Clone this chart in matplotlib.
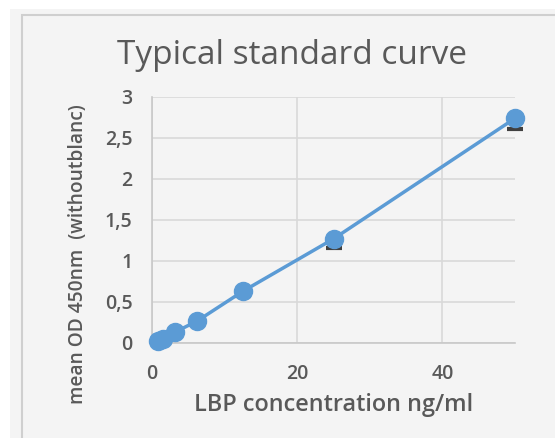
import matplotlib
matplotlib.use("Agg")
import matplotlib.pyplot as plt
from matplotlib.patches import Rectangle

conc = [0.78, 1.56, 3.125, 6.25, 12.5, 25, 50]
od = [0.02, 0.05, 0.13, 0.27, 0.63, 1.27, 2.74]
err_low = [0.02, 0.02, 0.03, 0.04, 0.06, 0.11, 0.13]
yticks = [0, 0.5, 1, 1.5, 2, 2.5, 3]
ytick_labels = ["0", "0,5", "1", "1,5", "2", "2,5", "3"]
xticks = [0, 20, 40]
xtick_labels = ["0", "20", "40"]

W, H = 555, 438
fig = plt.figure(figsize=(W / 100, H / 100), dpi=100, facecolor="white")
plt.rcParams['font.family'] = ['Open Sans', 'DejaVu Sans']
txt = "#595959"
bg = "#f4f4f4"

fig.patches.append(Rectangle((10 / W, 0), 1, (H - 9) / H, transform=fig.transFigure,
                             facecolor=bg, edgecolor="none", zorder=-10))
fig.patches.append(Rectangle((22 / W, -0.1), 1.2, (H - 15) / H + 0.1, transform=fig.transFigure,
                             facecolor="none", edgecolor="#cfcfcf", lw=1.5, zorder=-9))

ax = fig.add_axes([152 / W, (H - 343) / H, (515 - 152) / W, (343 - 97) / H])
ax.set_facecolor(bg)
ax.set_xlim(0, 50)
ax.set_ylim(0, 3)
ax.set_xticks(xticks)
ax.set_xticklabels(xtick_labels)
ax.set_yticks(yticks)
ax.set_yticklabels(ytick_labels)
ax.grid(True, color="#d9d9d9", lw=1.2)
ax.set_axisbelow(True)
for s in ["top", "right"]:
    ax.spines[s].set_visible(False)
for s in ["left", "bottom"]:
    ax.spines[s].set_color("#c8c8c8")
    ax.spines[s].set_linewidth(1.2)
ax.tick_params(length=0, labelsize=14, labelcolor=txt)
ax.tick_params(axis="y", pad=14)
ax.tick_params(axis="x", pad=15)
for lab in ax.get_xticklabels() + ax.get_yticklabels():
    lab.set_fontweight("semibold")

ax.errorbar(conc, od, yerr=[err_low, [0] * len(od)], fmt="none", ecolor="#404040",
            elinewidth=1.2, capsize=6, capthick=3, zorder=2, clip_on=False)
ax.plot(conc, od, color="#5b9bd5", lw=2.5, marker="o", markersize=13,
        markerfacecolor="#5b9bd5", markeredgecolor="#5b9bd5", zorder=3, clip_on=False)

t1 = fig.text(292 / W, 1 - 55 / H, "Typical standard curve", ha="center", va="center",
              fontsize=18, color=txt)
t2 = fig.text(334 / W, 1 - 405 / H, "LBP concentration ng/ml", ha="center", va="center",
              fontsize=14, color=txt, fontweight="semibold")
t3 = fig.text(78 / W, 1 - 254 / H, "mean OD 450nm  (withoutblanc)", ha="center", va="center",
              rotation=90, fontsize=13, color=txt, fontweight="semibold")

fig.canvas.draw()
r = fig.canvas.get_renderer()
for t, target, axis in [(t1, 350, 0), (t2, 283, 0), (t3, 298, 1)]:
    bb = t.get_window_extent(r)
    cur = bb.width if axis == 0 else bb.height
    t.set_fontsize(t.get_fontsize() * target / cur)

fig.savefig("out.png", dpi=100, facecolor="white")
